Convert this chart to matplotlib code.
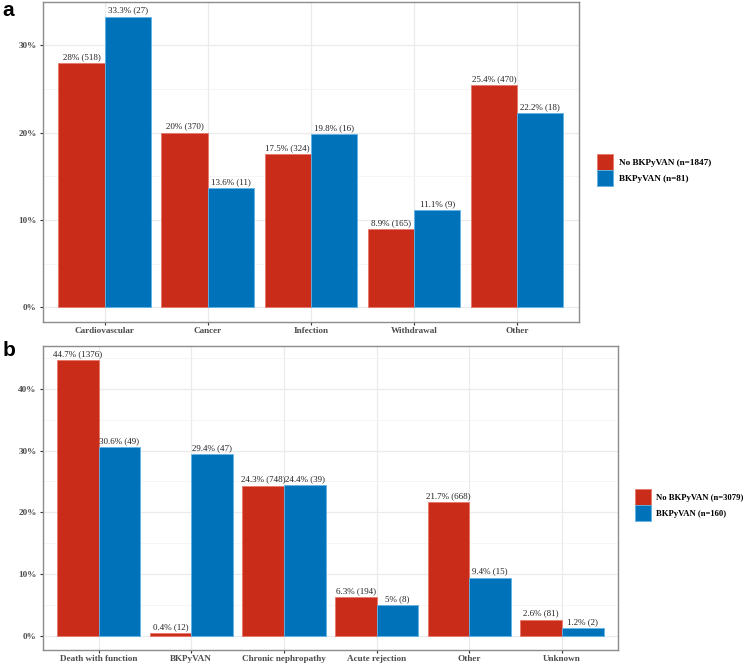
import numpy as np
import matplotlib
matplotlib.use('Agg')
import matplotlib.pyplot as plt
from matplotlib.ticker import MultipleLocator, FuncFormatter

plt.rcParams['font.family'] = ['Liberation Serif', 'DejaVu Serif']

RED = '#C92D1A'
BLUE = '#0072BA'

# panel a: cause of death
cats_a = ['Cardiovascular', 'Cancer', 'Infection', 'Withdrawal', 'Other']
no_pct_a = [28, 20, 17.5, 8.9, 25.4]
no_n_a = [518, 370, 324, 165, 470]
bk_pct_a = [33.3, 13.6, 19.8, 11.1, 22.2]
bk_n_a = [27, 11, 16, 9, 18]
legend_a = ['No BKPyVAN (n=1847)', 'BKPyVAN (n=81)']

# panel b: cause of graft loss
cats_b = ['Death with function', 'BKPyVAN', 'Chronic nephropathy',
          'Acute rejection', 'Other', 'Unknown']
no_pct_b = [44.7, 0.4, 24.3, 6.3, 21.7, 2.6]
no_n_b = [1376, 12, 748, 194, 668, 81]
bk_pct_b = [30.6, 29.4, 24.4, 5, 9.4, 1.2]
bk_n_b = [49, 47, 39, 8, 15, 2]
legend_b = ['No BKPyVAN (n=3079)', 'BKPyVAN (n=160)']


def panel(fig, ax, cats, no_pct, no_n, bk_pct, bk_n, labels, leg_x, leg_y, leg_fs, hh):
    x = np.arange(1, len(cats) + 1)
    w = 0.45
    b1 = ax.bar(x - w / 2, no_pct, w, color=RED, edgecolor='#E8776A', linewidth=0.6, zorder=3, label=labels[0])
    b2 = ax.bar(x + w / 2, bk_pct, w, color=BLUE, edgecolor='#5FB4E8', linewidth=0.6, zorder=3, label=labels[1])
    for bars, pct, n in ((b1, no_pct, no_n), (b2, bk_pct, bk_n)):
        for r, p, c in zip(bars, pct, n):
            ax.annotate('%g%% (%d)' % (p, c), (r.get_x() + r.get_width() / 2, r.get_height()),
                        xytext=(0, 1.5), textcoords='offset points', ha='center', va='bottom',
                        fontsize=6.5, color='#222222', zorder=4)
    top = max(max(no_pct), max(bk_pct))
    ax.set_ylim(-0.05 * top, 1.05 * top)
    ax.set_xlim(0.4, len(cats) + 0.6)
    ax.set_xticks(x)
    ax.set_xticklabels(cats, fontsize=6.6, fontweight='bold', color='#4D4D4D')
    ax.yaxis.set_major_locator(MultipleLocator(10))
    ax.yaxis.set_minor_locator(MultipleLocator(5))
    ax.yaxis.set_major_formatter(FuncFormatter(lambda v, p: '%d%%' % v))
    for t in ax.get_yticklabels():
        t.set_fontsize(6.6)
        t.set_fontweight('bold')
        t.set_color('#4D4D4D')
    ax.tick_params(axis='both', which='major', length=2.5, width=0.8, color='#333333', pad=2)
    ax.tick_params(axis='x', which='major', pad=1.5)
    ax.tick_params(axis='y', which='minor', length=0)
    ax.grid(True, which='major', color='#EBEBEB', linewidth=0.9, zorder=0)
    ax.grid(True, which='minor', axis='y', color='#F2F2F2', linewidth=0.5, zorder=0)
    ax.set_axisbelow(True)
    for s in ax.spines.values():
        s.set_color('#8C8C8C')
        s.set_linewidth(1.0)
    leg = ax.legend(loc='center left', bbox_to_anchor=(leg_x, leg_y), bbox_transform=fig.transFigure,
                    frameon=False, borderaxespad=0,
                    handlelength=16.5 / (leg_fs * 100 / 72), handleheight=hh, labelspacing=0,
                    handletextpad=0.6,
                    prop={'family': ['Liberation Serif'], 'weight': 'bold', 'size': leg_fs})
    for h in leg.legend_handles:
        h.set_linewidth(0.6)
    return ax


fig = plt.figure(figsize=(7.46, 6.64), dpi=100)
ax_a = fig.add_axes([0.0576, 0.5155, 0.7184, 0.4815])
ax_b = fig.add_axes([0.0576, 0.0218, 0.7704, 0.4571])
panel(fig, ax_a, cats_a, no_pct_a, no_n_a, bk_pct_a, bk_n_a, legend_a, 0.795, 1 - 170 / 664, 6.6, 2.3)
panel(fig, ax_b, cats_b, no_pct_b, no_n_b, bk_pct_b, bk_n_b, legend_b, 0.846, 1 - 505 / 664, 6.2, 2.45)

fig.text(0.003, 0.998, 'a', fontsize=15, fontweight='bold', family='Liberation Sans', va='top', ha='left')
fig.text(0.003, 0.487, 'b', fontsize=15, fontweight='bold', family='Liberation Sans', va='top', ha='left')

fig.savefig('out.png', dpi=100)
